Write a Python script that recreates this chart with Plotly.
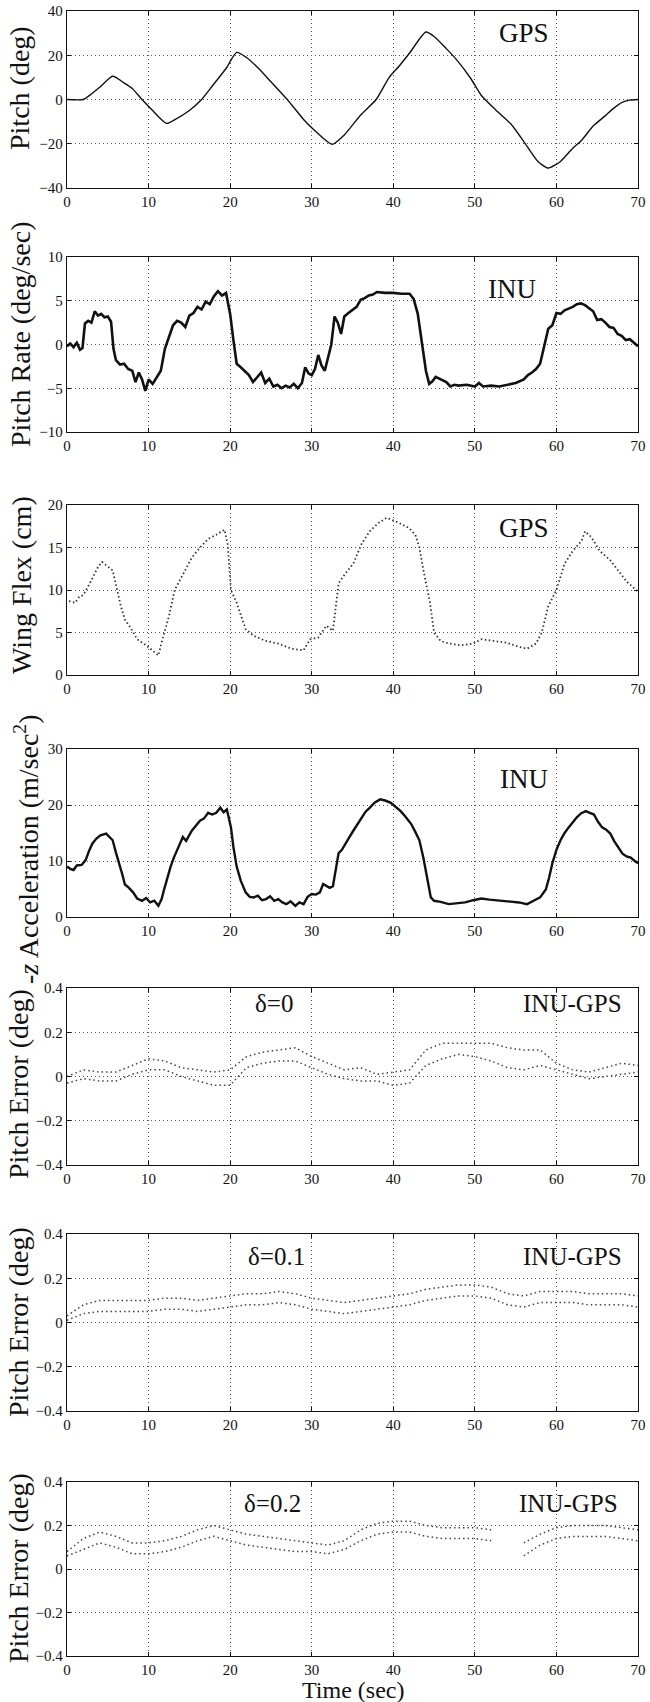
import plotly.graph_objects as go

# ---------------- data ----------------
time_ticks = [0, 10, 20, 30, 40, 50, 60, 70]

pitch_gps = [(0, 0), (2, 0), (3, 2.5), (4, 5.5), (5.6, 10.5), (7, 7.5), (8, 5), (9.2, 0),
             (10.5, -5), (12.2, -10.8), (13.5, -8.5), (15, -5), (16.5, 0), (18, 7), (19.5, 14),
             (20.8, 21.3), (22, 19), (23.5, 14), (25, 8), (27, 0), (29, -9), (30.5, -14.5),
             (32.5, -20.3), (34, -16), (36, -7), (37.9, 0), (39.5, 10), (40.7, 15), (42, 21),
             (44, 30.5), (45, 28.5), (46.5, 23), (47.8, 17.8), (49.5, 9.5), (50.8, 1.8),
             (52.5, -4.5), (54.4, -11), (56, -19), (57.7, -27.9), (59, -31), (60.5, -28),
             (62, -22), (63, -18.8), (64.5, -12), (66, -7.3), (67, -4), (68.1, -1.2),
             (69, -0.3), (70, 0)]

rate_inu = [(0, -0.2), (0.4, 0.1), (0.8, -0.3), (1.2, 0.2), (1.6, -0.6), (1.9, -0.4), (2.2, 2.4),
            (2.6, 2.7), (3.0, 2.5), (3.4, 3.8), (3.8, 3.3), (4.2, 3.5), (4.6, 3.1), (5.0, 3.2),
            (5.4, 2.6), (5.7, -0.5), (6.0, -1.8), (6.5, -2.3), (7.0, -2.2), (7.5, -2.8),
            (8.0, -3.0), (8.4, -4.3), (8.8, -3.2), (9.2, -4.0), (9.6, -5.3), (10.0, -4.0),
            (10.5, -4.5), (11.0, -3.8), (11.5, -3.0), (12.0, -0.5), (12.5, 0.8), (13.0, 2.2),
            (13.5, 2.7), (14.0, 2.5), (14.5, 2.0), (15.0, 3.3), (15.5, 3.6), (16.0, 4.3),
            (16.5, 4.0), (17.0, 4.9), (17.5, 4.6), (18.0, 5.5), (18.5, 6.1), (19.0, 5.6),
            (19.5, 5.9), (20.0, 3.5), (20.4, 0.5), (20.8, -2.2), (21.3, -2.6), (21.8, -3.0),
            (22.3, -3.5), (22.8, -4.3), (23.3, -3.8), (23.8, -3.2), (24.3, -4.4), (24.8, -3.9),
            (25.3, -4.8), (25.8, -4.6), (26.3, -5.0), (26.8, -4.7), (27.3, -4.9), (27.8, -4.5),
            (28.3, -5.0), (28.8, -4.4), (29.2, -2.6), (29.6, -3.3), (30.0, -3.5), (30.4, -2.8),
            (30.8, -1.2), (31.2, -2.4), (31.6, -3.0), (32.0, -1.5), (32.4, 0.0), (32.8, 3.2),
            (33.2, 2.5), (33.6, 1.2), (34.0, 3.2), (34.5, 3.6), (35.0, 4.0), (35.5, 4.3),
            (36.0, 5.1), (36.5, 5.3), (37.0, 5.6), (37.5, 5.7), (38.0, 6.0), (39.0, 5.9),
            (40.0, 5.9), (41.0, 5.8), (42.0, 5.8), (42.5, 5.2), (43.0, 3.5), (43.5, 0.5),
            (44.0, -3.0), (44.4, -4.5), (44.8, -4.2), (45.2, -3.7), (45.6, -3.9), (46.0, -4.1),
            (46.5, -4.3), (47.0, -4.8), (47.5, -4.6), (48.0, -4.7), (49.0, -4.6), (50.0, -4.8),
            (50.5, -4.4), (51.0, -4.8), (52.0, -4.7), (53.0, -4.8), (54.0, -4.6), (55.0, -4.4),
            (56.0, -4.0), (56.5, -3.5), (57.0, -3.2), (57.5, -2.8), (58.0, -2.2), (58.5, 0.0),
            (59.0, 1.8), (59.5, 2.2), (60.0, 3.6), (60.5, 3.5), (61.0, 3.9), (61.5, 4.1),
            (62.0, 4.3), (62.5, 4.6), (63.0, 4.7), (63.5, 4.5), (64.0, 4.2), (64.5, 3.8),
            (65.0, 2.8), (65.5, 2.9), (66.0, 2.5), (66.5, 2.0), (67.0, 1.9), (67.5, 1.2),
            (68.0, 1.0), (68.5, 0.5), (69.0, 0.6), (69.5, 0.2), (70.0, -0.2)]

flex_gps = [(0.25, 8.7), (1, 8.5), (1.5, 9.2), (2, 9.4), (2.8, 10.8), (3.8, 12.7), (4.3, 13.3),
            (5.1, 12.7), (5.6, 12.3), (6.6, 8.1), (7.1, 6.5), (7.9, 5.4), (8.6, 4.2), (9.7, 3.5),
            (10.7, 2.7), (11.2, 2.3), (11.7, 4.2), (12.5, 6.9), (13.2, 10), (14.2, 11.9),
            (15.3, 13.8), (16.3, 15), (17.3, 16), (18.3, 16.5), (19.3, 17.1), (19.7, 15.4),
            (20.1, 10), (20.8, 8.5), (21.9, 5.4), (22.9, 4.6), (24.4, 4.0), (25.9, 3.7),
            (27.5, 3.1), (29, 2.9), (29.8, 4.2), (30.8, 4.4), (31.8, 5.8), (32.6, 5.2),
            (33.3, 10.8), (34.1, 11.9), (35.1, 13.1), (36.1, 15.4), (37.1, 16.9), (38.2, 17.9),
            (39.2, 18.5), (40.7, 17.9), (41.9, 17.3), (42.7, 16.5), (43.2, 15), (43.7, 12.3),
            (44.5, 8.5), (45, 5), (45.8, 4.0), (46.8, 3.7), (48.3, 3.5), (49.8, 3.7),
            (50.8, 4.2), (52.4, 4.0), (53.9, 3.8), (55.4, 3.3), (56.4, 3.1), (57.5, 3.7),
            (58.2, 5), (59, 8.1), (60, 10), (61, 13.1), (62, 14.6), (63.1, 15.8), (63.5, 16.9),
            (64.3, 16.2), (65.3, 14.6), (66.6, 13.5), (67.6, 12.3), (68.6, 11), (70, 9.8)]

accel_inu = [(0, 9.0), (0.4, 8.6), (0.8, 8.4), (1.2, 9.2), (1.8, 9.3), (2.3, 10.2), (2.7, 11.8),
             (3.1, 13.1), (3.6, 14.0), (4.1, 14.6), (4.8, 14.9), (5.2, 14.2), (5.6, 13.7),
             (6.0, 11.5), (6.4, 9.6), (6.8, 7.5), (7.1, 5.8), (7.6, 5.2), (8.1, 4.4), (8.6, 3.3),
             (9.2, 2.9), (9.7, 3.4), (10.2, 2.6), (10.7, 2.9), (11.2, 2.0), (11.6, 3.2),
             (11.9, 4.9), (12.3, 7.0), (12.7, 9.0), (13.1, 10.6), (13.5, 11.9), (13.9, 13.5),
             (14.2, 14.3), (14.6, 13.6), (15.3, 15.4), (15.8, 16.3), (16.3, 17.2), (16.8, 17.6),
             (17.3, 18.6), (17.8, 18.3), (18.3, 18.6), (18.8, 19.5), (19.2, 18.7), (19.6, 19.2),
             (20.1, 16.0), (20.4, 12.5), (20.8, 9.0), (21.3, 6.5), (21.9, 4.4), (22.4, 3.6),
             (22.9, 3.5), (23.4, 3.8), (23.9, 3.0), (24.4, 3.2), (24.9, 3.7), (25.4, 2.9),
             (25.9, 3.2), (26.4, 2.6), (26.9, 2.3), (27.4, 2.8), (28.0, 2.0), (28.5, 2.6),
             (29.0, 2.3), (29.5, 3.6), (30.0, 4.1), (30.5, 4.0), (31.0, 4.4), (31.4, 5.9),
             (31.8, 5.5), (32.2, 5.2), (32.6, 5.5), (32.9, 8.0), (33.3, 11.4), (33.7, 12.0),
             (34.1, 13.1), (34.6, 14.2), (35.1, 15.4), (35.6, 16.6), (36.1, 17.8), (36.6, 18.8),
             (37.1, 19.5), (37.7, 20.4), (38.4, 21.0), (39.0, 20.8), (39.7, 20.4), (40.3, 19.7),
             (40.9, 18.9), (41.5, 17.9), (42.2, 16.6), (42.7, 15.2), (43.2, 13.7), (43.7, 10.5),
             (44.2, 6.7), (44.6, 3.5), (45.0, 2.9), (45.8, 2.7), (46.8, 2.3), (47.8, 2.5),
             (48.8, 2.6), (49.8, 3.0), (50.8, 3.3), (51.8, 3.1), (52.9, 2.9), (54.0, 2.8),
             (55.4, 2.6), (56.4, 2.3), (57.2, 2.9), (58.0, 3.5), (58.7, 4.9), (59.1, 7.0),
             (59.5, 9.6), (60.0, 12.0), (60.5, 13.7), (61.0, 15.0), (61.5, 16.0), (62.0, 17.0),
             (62.5, 17.8), (63.0, 18.5), (63.6, 18.9), (64.1, 18.6), (64.6, 18.3), (65.1, 17.0),
             (65.6, 16.0), (66.1, 15.6), (66.6, 14.9), (67.1, 13.5), (67.6, 12.5), (68.1, 11.3),
             (68.6, 10.8), (69.1, 10.6), (69.6, 10.0), (70, 9.6)]

err_t = [0, 2, 4, 6, 8, 10, 12, 14, 16, 18, 20, 22, 24, 26, 28, 30, 32, 34, 36, 38, 40, 42, 44,
         46, 48, 50, 52, 54, 56, 58, 60, 62, 64, 66, 68, 70]
err0_hi = [0.0, 0.03, 0.02, 0.02, 0.05, 0.08, 0.07, 0.04, 0.03, 0.02, 0.03, 0.09, 0.11, 0.12,
           0.13, 0.09, 0.06, 0.03, 0.04, 0.01, 0.02, 0.03, 0.12, 0.15, 0.15, 0.15, 0.15, 0.13,
           0.12, 0.12, 0.06, 0.03, 0.02, 0.04, 0.06, 0.05]
err0_lo = [-0.03, -0.01, -0.02, -0.02, 0.01, 0.03, 0.03, 0.0, -0.02, -0.04, -0.04, 0.04, 0.06,
           0.07, 0.07, 0.04, 0.01, -0.01, -0.02, -0.02, -0.04, -0.03, 0.05, 0.08, 0.1, 0.09,
           0.07, 0.04, 0.03, 0.05, 0.03, 0.01, -0.01, 0.0, 0.01, 0.02]
err1_hi = [0.03, 0.08, 0.1, 0.1, 0.1, 0.1, 0.11, 0.11, 0.1, 0.11, 0.12, 0.13, 0.13, 0.14, 0.13,
           0.11, 0.1, 0.09, 0.1, 0.11, 0.12, 0.13, 0.15, 0.16, 0.17, 0.17, 0.16, 0.13, 0.12,
           0.14, 0.14, 0.14, 0.13, 0.13, 0.13, 0.12]
err1_lo = [0.01, 0.04, 0.05, 0.05, 0.05, 0.05, 0.06, 0.06, 0.05, 0.06, 0.07, 0.08, 0.08, 0.09,
           0.08, 0.06, 0.05, 0.04, 0.05, 0.06, 0.07, 0.08, 0.1, 0.11, 0.12, 0.12, 0.11, 0.08,
           0.07, 0.09, 0.09, 0.09, 0.08, 0.08, 0.08, 0.07]
err2_hi = [0.08, 0.14, 0.17, 0.15, 0.12, 0.12, 0.13, 0.15, 0.18, 0.2, 0.18, 0.16, 0.15, 0.14,
           0.13, 0.12, 0.11, 0.13, 0.18, 0.21, 0.22, 0.22, 0.2, 0.19, 0.19, 0.19, 0.18, None,
           0.12, 0.16, 0.19, 0.2, 0.2, 0.2, 0.19, 0.18]
err2_lo = [0.06, 0.09, 0.12, 0.1, 0.07, 0.07, 0.08, 0.1, 0.13, 0.15, 0.13, 0.11, 0.1, 0.09,
           0.08, 0.08, 0.07, 0.09, 0.13, 0.16, 0.17, 0.17, 0.15, 0.14, 0.14, 0.14, 0.13, None,
           0.06, 0.11, 0.14, 0.15, 0.15, 0.15, 0.14, 0.13]

# ---------------- panel layout ----------------
H, W = 1702, 650
panels_px = [(11, 188), (257, 432), (505, 675), (749, 917), (988, 1165), (1234, 1411), (1482, 1656)]
y_ranges = [[-40, 40], [-10, 10], [0, 20], [0, 30], [-0.4, 0.4], [-0.4, 0.4], [-0.4, 0.4]]
y_ticks = [[-40, -20, 0, 20, 40], [-10, -5, 0, 5, 10], [0, 5, 10, 15, 20], [0, 10, 20, 30],
           [-0.4, -0.2, 0, 0.2, 0.4], [-0.4, -0.2, 0, 0.2, 0.4], [-0.4, -0.2, 0, 0.2, 0.4]]
y_titles = ["Pitch (deg)", "Pitch Rate (deg/sec)", "Wing Flex (cm)",
            "-<i>z</i> Acceleration (m/sec<sup>2</sup>)",
            "Pitch Error (deg)", "Pitch Error (deg)", "Pitch Error (deg)"]
# centre of each y title in page pixels (x, y)
title_pos = [(20, 88), (20, 335), (21, 585), (26, 850), (18, 1084), (18, 1322), (18, 1568)]

FONT = "Liberation Serif, Times New Roman, serif"
INK = "#111111"

fig = go.Figure()


def ax(i):
    return ("x" if i == 0 else f"x{i+1}"), ("y" if i == 0 else f"y{i+1}")


def unzip(pts):
    return [p[0] for p in pts], [p[1] for p in pts]


# panel 1
xa, ya = ax(0)
tx, vy = unzip(pitch_gps)
fig.add_trace(go.Scatter(x=tx, y=vy, mode="lines",
                         line=dict(color=INK, width=1.4, shape="spline", smoothing=0.6),
                         xaxis=xa, yaxis=ya, showlegend=False, hoverinfo="skip"))
# panel 2
xa, ya = ax(1)
tx, vy = unzip(rate_inu)
fig.add_trace(go.Scatter(x=tx, y=vy, mode="lines", line=dict(color=INK, width=2.6),
                         xaxis=xa, yaxis=ya, showlegend=False, hoverinfo="skip"))
# panel 3
xa, ya = ax(2)
tx, vy = unzip(flex_gps)
fig.add_trace(go.Scatter(x=tx, y=vy, mode="lines",
                         line=dict(color="#333333", width=1.8, dash="1.5px,2.5px"),
                         xaxis=xa, yaxis=ya, showlegend=False, hoverinfo="skip"))
# panel 4
xa, ya = ax(3)
tx, vy = unzip(accel_inu)
fig.add_trace(go.Scatter(x=tx, y=vy, mode="lines", line=dict(color=INK, width=2.4),
                         xaxis=xa, yaxis=ya, showlegend=False, hoverinfo="skip"))
# panels 5-7
for k, (hi, lo) in enumerate([(err0_hi, err0_lo), (err1_hi, err1_lo), (err2_hi, err2_lo)]):
    xa, ya = ax(4 + k)
    for ser in (hi, lo):
        fig.add_trace(go.Scatter(x=err_t, y=ser, mode="lines",
                                 line=dict(color="#444444", width=1.5, dash="1.5px,3px"),
                                 xaxis=xa, yaxis=ya, showlegend=False, hoverinfo="skip"))

plot_l, plot_r = 67, 638
axis_common = dict(showline=True, linecolor=INK, linewidth=1.3, mirror="ticks",
                   ticks="inside", ticklen=4, tickcolor=INK,
                   showgrid=True, gridcolor="#555555", griddash="1px,3px", gridwidth=1,
                   zeroline=False, automargin=False,
                   tickfont=dict(family=FONT, size=15, color=INK))

layout = dict(width=W, height=H,
              margin=dict(l=plot_l, r=W - plot_r, t=0, b=0, autoexpand=False),
              paper_bgcolor="white", plot_bgcolor="white", font=dict(family=FONT, color=INK),
              hovermode=False)

annotations = []
for i, (top, bot) in enumerate(panels_px):
    xname = "xaxis" if i == 0 else f"xaxis{i+1}"
    yname = "yaxis" if i == 0 else f"yaxis{i+1}"
    xa, ya = ax(i)
    layout[xname] = dict(axis_common, range=[0, 70], tickvals=time_ticks, anchor=ya, domain=[0, 1])
    layout[yname] = dict(axis_common, range=y_ranges[i], tickvals=y_ticks[i], anchor=xa,
                         domain=[1 - bot / H, 1 - top / H])
    tx_, ty_ = title_pos[i]
    annotations.append(dict(text=y_titles[i], xref="paper", yref="paper",
                            x=(tx_ - plot_l) / (plot_r - plot_l), y=1 - ty_ / H,
                            textangle=-90, showarrow=False, xanchor="center", yanchor="middle",
                            font=dict(family=FONT, size=28, color=INK)))

# in-plot labels (panel, text, x, y, font size)
labels = [(0, "GPS", 56, 30, 27), (1, "INU", 54.5, 6.3, 27), (2, "GPS", 56, 17.3, 27),
          (3, "INU", 56, 24.7, 27),
          (4, "δ=0", 25.4, 0.33, 25), (4, "INU-GPS", 62, 0.33, 25),
          (5, "δ=0.1", 25.7, 0.30, 25), (5, "INU-GPS", 62, 0.30, 25),
          (6, "δ=0.2", 25.2, 0.30, 25), (6, "INU-GPS", 61.5, 0.30, 25)]
for i, txt, x, y, fs in labels:
    xa, ya = ax(i)
    annotations.append(dict(text=txt, x=x, y=y, xref=xa, yref=ya, showarrow=False,
                            xanchor="center", yanchor="middle",
                            font=dict(family=FONT, size=fs, color=INK)))

annotations.append(dict(text="Time (sec)", xref="paper", yref="paper", x=0.5, y=1 - 1690 / H,
                        showarrow=False, xanchor="center", yanchor="middle",
                        font=dict(family=FONT, size=24, color=INK)))
layout["annotations"] = annotations
fig.update_layout(**layout)

fig.write_html("out.html", config={"displayModeBar": False, "staticPlot": True},
               post_script="document.body.style.margin='0';document.body.style.padding='0';"
                           "document.body.style.overflow='hidden';")
